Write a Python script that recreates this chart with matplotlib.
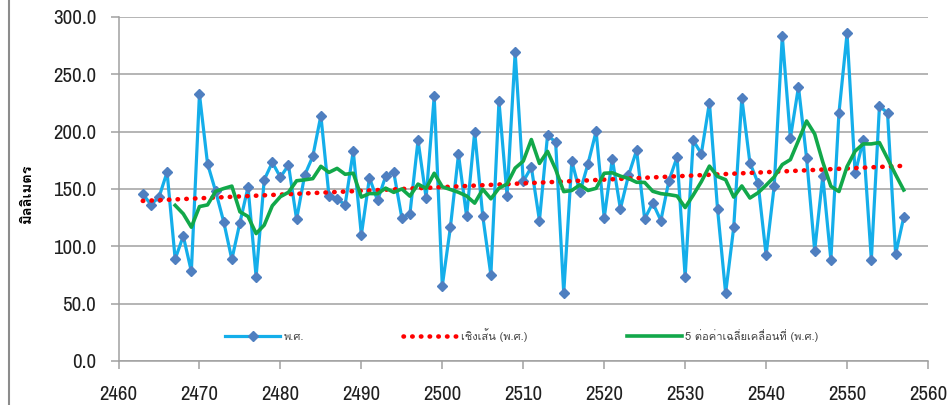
import matplotlib
matplotlib.use('Agg')
import matplotlib.pyplot as plt
import numpy as np
import pandas as pd
from matplotlib import font_manager
from matplotlib.ft2font import FT2Font
from matplotlib.lines import Line2D
from matplotlib.ticker import FormatStrFormatter, MultipleLocator

# ปีพุทธศักราช และปริมาณฝน (มม.) อ่านจากภาพ
years = list(range(2463, 2558))
rain = [
    145.8, 136.4, 142.8, 164.7, 88.9, 109.0, 78.1, 232.7, 172.0, 148.0,
    121.3, 88.6, 120.7, 151.6, 73.5, 158.0, 173.2, 160.3, 170.8, 123.6,
    162.1, 178.4, 214.0, 144.3, 141.1, 136.4, 183.1, 109.9, 159.8, 140.0,
    161.0, 164.7, 124.8, 128.3, 192.4, 142.3, 230.9, 65.6, 116.6, 180.2,
    126.2, 199.7, 126.2, 75.0, 226.5, 144.3, 269.1, 156.6, 169.1, 122.5,
    196.8, 190.9, 59.2, 174.3, 147.2, 172.0, 200.3, 124.8, 176.4, 132.7,
    161.8, 183.7, 123.9, 137.9, 122.5, 157.4, 177.8, 73.5, 192.4, 180.8,
    225.4, 132.7, 59.2, 116.6, 229.4, 172.8, 155.4, 92.4, 152.5, 283.4,
    194.4, 239.1, 177.0, 96.2, 161.2, 88.3, 216.4, 285.7, 163.8, 192.4,
    88.3, 222.2, 216.4, 93.3, 125.3,
]

label_series = 'พ.ศ.'
label_linear = 'เชิงเส้น (พ.ศ.)'
label_ma = '5 ต่อค่าเฉลี่ยเคลื่อนที่ (พ.ศ.)'
y_label = 'มิลลิเมตร'


def find_thai_font():
    for fe in font_manager.fontManager.ttflist:
        try:
            if ord('ม') in FT2Font(fe.fname).get_charmap():
                return fe.name
        except Exception:
            pass
    return None


def find_narrow_font():
    for fe in font_manager.fontManager.ttflist:
        n = fe.name.lower()
        if ('narrow' in n or 'condensed' in n) and 'bold' not in str(fe.weight):
            return fe.name
    return None


thai_font = find_thai_font()
narrow_font = find_narrow_font()
fam_thai = [f for f in [thai_font, 'DejaVu Sans'] if f]
if narrow_font:
    fam_num = [narrow_font, 'Liberation Sans']
    num_size = 15
else:
    fam_num = ['Liberation Sans', 'DejaVu Sans']
    num_size = 13

# เส้นแนวโน้มแบบ Excel: เชิงเส้น + ค่าเฉลี่ยเคลื่อนที่ 5 ช่วง (คำนวณจากข้อมูลที่อ่านได้)
x = np.array(years, dtype=float)
y = np.array(rain)
coef = np.polyfit(x, y, 1)
trend = np.polyval(coef, x)
ma5 = pd.Series(y).rolling(5).mean().to_numpy()

fig = plt.figure(figsize=(9.51, 4.05), dpi=100)
ax = fig.add_axes([118.5 / 951, 1 - 361 / 405, (928 - 118.5) / 951, (361 - 17) / 405])

ax.plot(x, y, color='#14aeea', linewidth=2.3, marker='D', markersize=5.5,
        markerfacecolor='#4f7fc0', markeredgecolor='#4f7fc0', label=label_series, zorder=3)
ax.plot(x, trend, color='#ff0000', linewidth=3.3, linestyle=(0, (0.1, 1.8)),
        dash_capstyle='round', label=label_linear, zorder=4)
ax.plot(x, ma5, color='#12a84a', linewidth=2.6, label=label_ma, zorder=5)

ax.set_xlim(2460, 2560)
ax.set_ylim(0, 300)
ax.xaxis.set_major_locator(MultipleLocator(10))
ax.yaxis.set_major_locator(MultipleLocator(50))
ax.yaxis.set_major_formatter(FormatStrFormatter('%.1f'))
ax.grid(axis='y', color='#a0a0a0', linewidth=1.1)
ax.set_axisbelow(True)

for s in ['top', 'right']:
    ax.spines[s].set_visible(False)
for s in ['left', 'bottom']:
    ax.spines[s].set_color('#a0a0a0')
    ax.spines[s].set_linewidth(1.1)
ax.tick_params(axis='both', color='#a0a0a0', width=1.1, length=6, labelsize=num_size,
               labelcolor='#202020')
ax.tick_params(axis='x', pad=11)
ax.tick_params(axis='y', pad=10)
for lab in ax.get_xticklabels() + ax.get_yticklabels():
    lab.set_family(fam_num)

fig.text(27 / 951, 1 - 193 / 405, y_label, rotation=90, ha='center', va='center',
         fontsize=10.5, fontweight='bold', family=fam_thai)

leg = ax.legend(loc='center', bbox_to_anchor=(0.498, 0.076), ncol=3, frameon=False,
                prop={'family': fam_thai, 'size': 8}, handlelength=5,
                handletextpad=0.27, columnspacing=8.9)
for t in leg.get_texts():
    t.set_color('#404040')

# เส้นขอบซ้ายของพื้นที่แผนภูมิ
fig.add_artist(Line2D([9 / 951, 9 / 951], [0, 1], transform=fig.transFigure,
                      color='#8c8c8c', linewidth=1.5))

fig.savefig('out.png', dpi=100)
